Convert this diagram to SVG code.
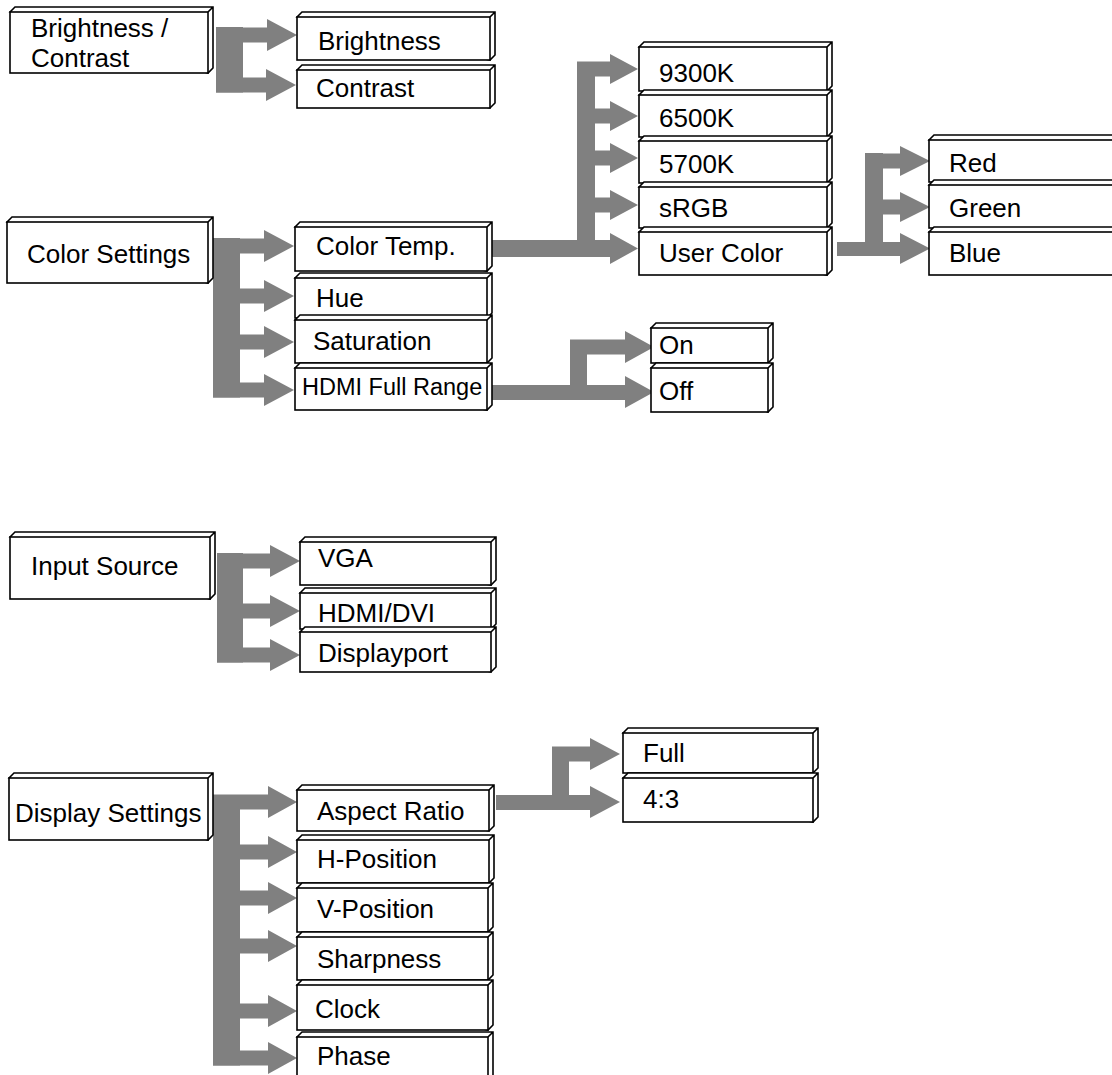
<svg xmlns="http://www.w3.org/2000/svg" width="1112" height="1075" viewBox="0 0 1112 1075">
<style>
.node path, .node rect { fill:#fff; stroke:#000; stroke-width:1.6; stroke-linejoin:miter; }
.node text { font-family:"Liberation Sans", Arial, sans-serif; font-size:26px; fill:#000; }
.node text.sm { font-size:23.5px; }
#connectors path { fill:#808080; stroke:none; }
</style>
<rect width="1112" height="1075" fill="#fff"/>

<g id="connectors">
  <!-- Brightness / Contrast -->
  <path d="M216,27 h27 v65.5 h-27 z"/>
  <path d="M216,27.5 H267 V19 L297,35 L267,51 V42.5 H216 Z"/>
  <path d="M216,77.5 H266 V69 L296,85 L266,101 V92.5 H216 Z"/>
  <!-- Color Settings -->
  <path d="M213,238 h27 v159.5 h-27 z"/>
  <path d="M213,238.5 H264 V230 L294,246 L264,262 V253.5 H213 Z"/>
  <path d="M213,288.5 H264 V280 L294,296 L264,312 V303.5 H213 Z"/>
  <path d="M213,334.5 H264 V326 L294,342 L264,358 V349.5 H213 Z"/>
  <path d="M213,382.5 H264 V374 L294,390 L264,406 V397.5 H213 Z"/>
  <!-- Color Temp. -->
  <path d="M577,62 h18 v195 h-18 z"/>
  <path d="M492,240 H610 V233 L638,248.5 L610,264 V257 H492 Z"/>
  <path d="M577,61.5 H610 V54 L638,69 L610,84 V76.5 H577 Z"/>
  <path d="M577,108.5 H610 V101 L638,116 L610,131 V123.5 H577 Z"/>
  <path d="M577,150.5 H610 V143 L638,158 L610,173 V165.5 H577 Z"/>
  <path d="M577,197.5 H610 V190 L638,205 L610,220 V212.5 H577 Z"/>
  <!-- User Color -->
  <path d="M865,153 h18 v103 h-18 z"/>
  <path d="M837,242 H900 V233 L930,248.5 L900,264 V256 H837 Z"/>
  <path d="M865,153.5 H900 V146 L930,161 L900,176 V168.5 H865 Z"/>
  <path d="M865,199.5 H900 V192 L930,207 L900,222 V214.5 H865 Z"/>
  <!-- HDMI Full Range -->
  <path d="M570,340 h17 v60 h-17 z"/>
  <path d="M492,385 H625 V376 L654,392 L625,408 V400 H492 Z"/>
  <path d="M570,339.5 H625 V331 L654,347 L625,363 V354.5 H570 Z"/>
  <!-- Input Source -->
  <path d="M217,553 h26 v109.5 h-26 z"/>
  <path d="M217,553.5 H270 V545 L300,561 L270,577 V568.5 H217 Z"/>
  <path d="M217,603.5 H270 V595 L300,611 L270,627 V618.5 H217 Z"/>
  <path d="M217,647.5 H270 V639 L300,655 L270,671 V662.5 H217 Z"/>
  <!-- Display Settings -->
  <path d="M213,795 h27 v270.5 h-27 z"/>
  <path d="M213,794.5 H268 V786 L297,802 L268,818 V809.5 H213 Z"/>
  <path d="M213,844.5 H268 V836 L297,852 L268,868 V859.5 H213 Z"/>
  <path d="M213,890.5 H268 V882 L297,898 L268,914 V905.5 H213 Z"/>
  <path d="M213,938.5 H268 V930 L297,946 L268,962 V953.5 H213 Z"/>
  <path d="M213,1003.5 H268 V995 L297,1011 L268,1027 V1018.5 H213 Z"/>
  <path d="M213,1050.5 H268 V1042 L297,1058 L268,1074 V1065.5 H213 Z"/>
  <!-- Aspect Ratio -->
  <path d="M552,747 h17 v63 h-17 z"/>
  <path d="M496,795 H590 V786 L620,802 L590,818 V810 H496 Z"/>
  <path d="M552,746.5 H590 V738 L620,754 L590,770 V761.5 H552 Z"/>
</g>

<g id="n-bc" class="node"><path d="M10,12l5,-5h198v61l-5,5zM208,12l5,-5"/><rect x="10" y="12" width="198" height="61"/><text x="31" y="37">Brightness /</text><text x="31" y="67">Contrast</text></g>
<g id="n-brightness" class="node"><path d="M297,17l5,-5h193v43l-5,5zM490,17l5,-5"/><rect x="297" y="17" width="193" height="43"/><text x="318" y="50">Brightness</text></g>
<g id="n-contrast" class="node"><path d="M297,70l5,-5h193v38l-5,5zM490,70l5,-5"/><rect x="297" y="70" width="193" height="38"/><text x="316" y="97">Contrast</text></g>

<g id="n-colorsettings" class="node"><path d="M7,222l5,-5h201v61l-5,5zM208,222l5,-5"/><rect x="7" y="222" width="201" height="61"/><text x="27" y="263">Color Settings</text></g>
<g id="n-colortemp" class="node"><path d="M295,227l5,-5h192v44l-5,5zM487,227l5,-5"/><rect x="295" y="227" width="192" height="44"/><text x="316" y="255">Color Temp.</text></g>
<g id="n-hue" class="node"><path d="M295,278l5,-5h192v40l-5,5zM487,278l5,-5"/><rect x="295" y="278" width="192" height="40"/><text x="316" y="307">Hue</text></g>
<g id="n-saturation" class="node"><path d="M295,320l5,-5h192v43l-5,5zM487,320l5,-5"/><rect x="295" y="320" width="192" height="43"/><text x="313" y="350">Saturation</text></g>
<g id="n-hdmifull" class="node"><path d="M295,368l5,-5h192v42l-5,5zM487,368l5,-5"/><rect x="295" y="368" width="192" height="42"/><text class="sm" x="302" y="395">HDMI Full Range</text></g>

<g id="n-9300k" class="node"><path d="M639,47l5,-5h188v44l-5,5zM827,47l5,-5"/><rect x="639" y="47" width="188" height="44"/><text x="659" y="82">9300K</text></g>
<g id="n-6500k" class="node"><path d="M639,95l5,-5h188v42l-5,5zM827,95l5,-5"/><rect x="639" y="95" width="188" height="42"/><text x="659" y="127">6500K</text></g>
<g id="n-5700k" class="node"><path d="M639,141l5,-5h188v42l-5,5zM827,141l5,-5"/><rect x="639" y="141" width="188" height="42"/><text x="659" y="173">5700K</text></g>
<g id="n-srgb" class="node"><path d="M639,187l5,-5h188v41l-5,5zM827,187l5,-5"/><rect x="639" y="187" width="188" height="41"/><text x="659" y="217">sRGB</text></g>
<g id="n-usercolor" class="node"><path d="M639,232l5,-5h188v43l-5,5zM827,232l5,-5"/><rect x="639" y="232" width="188" height="43"/><text x="659" y="262">User Color</text></g>

<g id="n-red" class="node"><path d="M929,140l5,-5h200v42l-5,5zM1129,140l5,-5"/><rect x="929" y="140" width="200" height="42"/><text x="949" y="172">Red</text></g>
<g id="n-green" class="node"><path d="M929,185l5,-5h200v43l-5,5zM1129,185l5,-5"/><rect x="929" y="185" width="200" height="43"/><text x="949" y="217">Green</text></g>
<g id="n-blue" class="node"><path d="M929,232l5,-5h200v43l-5,5zM1129,232l5,-5"/><rect x="929" y="232" width="200" height="43"/><text x="949" y="262">Blue</text></g>

<g id="n-on" class="node"><path d="M651,328l5,-5h117v35l-5,5zM768,328l5,-5"/><rect x="651" y="328" width="117" height="35"/><text x="659" y="354">On</text></g>
<g id="n-off" class="node"><path d="M651,368l5,-5h117v44l-5,5zM768,368l5,-5"/><rect x="651" y="368" width="117" height="44"/><text x="659" y="400">Off</text></g>

<g id="n-input" class="node"><path d="M10,537l5,-5h200v62l-5,5zM210,537l5,-5"/><rect x="10" y="537" width="200" height="62"/><text x="31" y="575">Input Source</text></g>
<g id="n-vga" class="node"><path d="M300,542l5,-5h191v43l-5,5zM491,542l5,-5"/><rect x="300" y="542" width="191" height="43"/><text x="318" y="567">VGA</text></g>
<g id="n-hdmidvi" class="node"><path d="M300,593l5,-5h191v36l-5,5zM491,593l5,-5"/><rect x="300" y="593" width="191" height="36"/><text x="318" y="622">HDMI/DVI</text></g>
<g id="n-displayport" class="node"><path d="M300,632l5,-5h191v40l-5,5zM491,632l5,-5"/><rect x="300" y="632" width="191" height="40"/><text x="318" y="662">Displayport</text></g>

<g id="n-display" class="node"><path d="M9,778l5,-5h199v62l-5,5zM208,778l5,-5"/><rect x="9" y="778" width="199" height="62"/><text x="15" y="822">Display Settings</text></g>
<g id="n-aspect" class="node"><path d="M297,790l5,-5h192v41l-5,5zM489,790l5,-5"/><rect x="297" y="790" width="192" height="41"/><text x="317" y="820">Aspect Ratio</text></g>
<g id="n-hpos" class="node"><path d="M297,840l5,-5h192v43l-5,5zM489,840l5,-5"/><rect x="297" y="840" width="192" height="43"/><text x="317" y="868">H-Position</text></g>
<g id="n-vpos" class="node"><path d="M297,888l5,-5h191v44l-5,5zM488,888l5,-5"/><rect x="297" y="888" width="191" height="44"/><text x="317" y="918">V-Position</text></g>
<g id="n-sharp" class="node"><path d="M297,937l5,-5h191v43l-5,5zM488,937l5,-5"/><rect x="297" y="937" width="191" height="43"/><text x="317" y="968">Sharpness</text></g>
<g id="n-clock" class="node"><path d="M297,985l5,-5h191v45l-5,5zM488,985l5,-5"/><rect x="297" y="985" width="191" height="45"/><text x="315" y="1018">Clock</text></g>
<g id="n-phase" class="node"><path d="M297,1037l5,-5h191v45l-5,5zM488,1037l5,-5"/><rect x="297" y="1037" width="191" height="45"/><text x="317" y="1065">Phase</text></g>

<g id="n-full" class="node"><path d="M623,733l5,-5h190v40l-5,5zM813,733l5,-5"/><rect x="623" y="733" width="190" height="40"/><text x="643" y="762">Full</text></g>
<g id="n-43" class="node"><path d="M623,778l5,-5h190v44l-5,5zM813,778l5,-5"/><rect x="623" y="778" width="190" height="44"/><text x="643" y="808">4:3</text></g>
</svg>
